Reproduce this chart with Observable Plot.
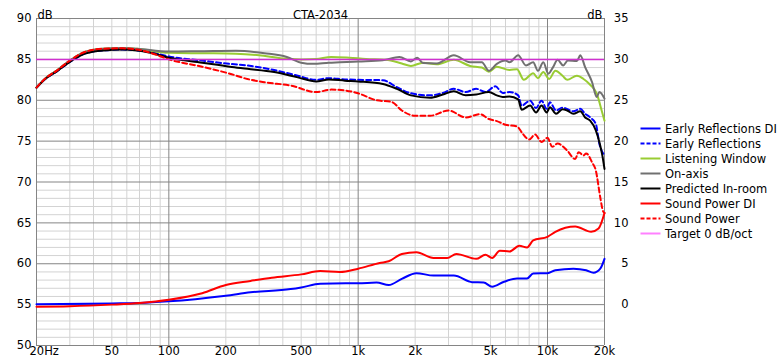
<!DOCTYPE html>
<html><head><meta charset="utf-8">
<script src="https://cdn.jsdelivr.net/npm/d3@7"></script>
<script src="https://cdn.jsdelivr.net/npm/@observablehq/plot@0.6"></script>
<style>
body{margin:0;background:#fff;font-family:"DejaVu Sans",sans-serif;}
#wrap{position:relative;width:780px;height:360px;overflow:hidden;}
#legend{position:absolute;left:640px;top:121px;font-size:11.5px;color:#000;}
.row{height:15px;display:flex;align-items:center;white-space:nowrap;}
.row svg{margin-right:4px;display:block;}
</style></head><body><div id="wrap"><div id="legend"></div></div>
<script>
// ---- data: [frequency Hz, level dB] ----
const earlyReflectionsDI = [[20,0.05],[50,0.15],[70,0.2],[100,0.4],[200,1.1],[270,1.5],[440,1.9],[500,2.1],[630,2.55],[860,2.6],[1000,2.6],[1250,2.7],[1450,2.4],[1700,3.15],[2030,3.85],[2500,3.55],[3200,3.55],[4000,2.75],[4600,2.7],[5100,2.2],[5900,2.8],[6900,3.2],[7800,3.2],[8400,3.8],[10000,3.85],[11000,4.2],[13700,4.4],[16000,4.2],[17500,3.9],[19000,4.4],[20000,5.6]];
const earlyReflections = [[20,81.55],[22.5,82.7],[25.5,83.5],[30,84.7],[36,85.7],[45,86.1],[57,86.2],[68,86.1],[80,85.9],[100,85.35],[150,84.85],[210,84.45],[260,84.25],[360,83.7],[480,83.0],[600,82.5],[700,82.7],[850,82.55],[1000,82.5],[1350,82.45],[1600,81.6],[1900,80.85],[2400,80.6],[2800,80.9],[3200,81.4],[3700,81.0],[4200,81.4],[4700,81.0],[5300,81.7],[5800,80.9],[6300,81.0],[7000,80.6],[7300,79.35],[8100,79.95],[8700,79.05],[9300,79.95],[9900,78.95],[10300,79.75],[11100,78.75],[12000,79.1],[13700,78.65],[14900,78.95],[15800,78.35],[16800,77.9],[18000,77.1],[18800,74.65],[19500,73.65],[20000,73.3]];
const listeningWindow = [[20,81.55],[22.5,82.75],[25.5,83.6],[30,84.85],[36,85.9],[45,86.3],[57,86.4],[68,86.3],[100,85.8],[150,85.75],[226,85.7],[300,85.5],[400,85.1],[500,85.0],[600,85.05],[720,85.3],[900,85.2],[1100,85.05],[1400,84.95],[1700,84.5],[1900,84.2],[2200,84.6],[2600,84.4],[3200,84.95],[3900,84.2],[4500,84.0],[4900,83.5],[5400,84.1],[6300,83.7],[6900,83.8],[7500,82.5],[8400,83.3],[8900,82.7],[9500,83.45],[10200,82.6],[11000,83.6],[12000,83.0],[12700,82.5],[14300,83.0],[15500,82.6],[16800,81.9],[18200,80.8],[19400,78.6],[20000,77.5]];
const onAxis = [[20,81.55],[22.5,82.75],[25.5,83.6],[30,84.85],[36,85.9],[45,86.3],[57,86.4],[68,86.3],[100,85.95],[150,86.0],[226,86.05],[320,85.75],[420,85.3],[500,84.6],[580,84.45],[700,84.6],[800,84.65],[1000,84.75],[1350,84.9],[1650,85.3],[1900,84.75],[2050,85.2],[2200,84.55],[2600,84.5],[3200,85.5],[3900,84.65],[4500,84.65],[4900,83.6],[5400,84.45],[6000,84.85],[6300,84.65],[7000,85.5],[7700,84.25],[8400,84.65],[8900,83.6],[9500,84.65],[10100,83.25],[10700,84.05],[11300,84.95],[12100,84.25],[12800,84.85],[14300,84.8],[14900,85.5],[15800,84.05],[17200,82.2],[18200,80.4],[18800,81.0],[20000,80.2]];
const predictedInRoom = [[20,81.55],[22.5,82.7],[25.5,83.5],[30,84.7],[36,85.7],[45,86.1],[57,86.2],[68,86.1],[80,85.8],[100,85.2],[150,84.6],[210,84.1],[260,83.85],[360,83.45],[480,82.8],[600,82.3],[700,82.55],[850,82.4],[1000,82.3],[1350,82.0],[1600,81.4],[1900,80.6],[2400,80.3],[2800,80.7],[3200,81.1],[3700,80.6],[4200,80.7],[4900,81.0],[5400,80.6],[5800,80.4],[6300,80.45],[7000,80.1],[7300,78.85],[8100,79.35],[8700,78.5],[9300,79.35],[9900,78.5],[10300,79.15],[11100,78.35],[12000,78.9],[12700,78.75],[13700,78.35],[14900,78.65],[15800,77.9],[16800,77.5],[18000,76.3],[18900,74.65],[19500,73.2],[20000,71.6]];
const soundPowerDI = [[20,-0.25],[30,-0.2],[50,0.0],[70,0.2],[100,0.6],[150,1.4],[200,2.4],[270,2.9],[350,3.3],[500,3.7],[630,4.1],[800,4.0],[1000,4.4],[1300,5.1],[1450,5.3],[1700,6.2],[2030,6.4],[2500,5.7],[2950,5.7],[3300,6.2],[4200,5.6],[4700,6.1],[5100,5.7],[5600,6.6],[6300,6.5],[7100,7.2],[7800,7.0],[8400,7.85],[10000,8.3],[11000,8.9],[14000,9.55],[17000,8.9],[18600,9.3],[20000,11.2]];
const soundPower = [[20,81.55],[22.5,82.75],[25.5,83.6],[30,84.85],[36,85.9],[45,86.3],[57,86.35],[68,86.2],[80,85.8],[100,85.0],[150,84.1],[210,83.25],[260,82.6],[320,82.2],[440,81.8],[600,81.0],[720,81.3],[850,81.2],[1000,80.85],[1250,80.0],[1500,79.8],[1700,78.75],[2000,78.1],[2400,78.1],[3000,78.75],[3700,77.9],[4400,78.3],[4900,77.7],[5400,77.45],[6000,77.0],[6900,76.8],[7400,75.9],[8000,75.2],[8600,75.8],[9300,74.9],[10000,75.4],[10600,74.3],[11300,74.7],[12700,73.85],[14000,72.8],[14600,73.65],[15500,73.25],[16000,73.5],[17200,72.4],[18000,71.4],[19000,68.1],[19600,66.5],[20000,66.2]];
const targetLevel = 85;
const diOffset = 55; // DI axis 0 aligned with 55 dB on the left axis

const xTickValues = [20,50,100,200,500,1000,2000,5000,10000,20000];
const xTickLabels = ["20Hz","50","100","200","500","1k","2k","5k","10k","20k"];
const yTicksLeft = [50,55,60,65,70,75,80,85,90];
const yTicksRight = [0,5,10,15,20,25,30,35];

const seriesNames = ["Early Reflections DI","Early Reflections","Listening Window","On-axis","Predicted In-room","Sound Power DI","Sound Power","Target 0 dB/oct"];
const seriesColors = ["#0000ff","#0000ff","#99cc33","#707070","#000000","#ff0000","#ff0000","#ff80ff"];
const seriesDashed = [false,true,false,false,false,false,true,false];

// ---- grid ----
const minorX = [];
for (const dec of [10,100,1000,10000]) for (let k=2;k<=9;k++){const f=k*dec; if(f>20&&f<20000&&f!==100&&f!==1000&&f!==10000) minorX.push(f);}
const majorX = [20,100,1000,10000,20000];
const minorY = d3.range(50,91).filter(v=>v%5!==0);
const majorY = yTicksLeft;

const toRows = (arr, off=0) => arr.map(([f,v])=>({f, v: v+off}));
const seriesData = [
  toRows(earlyReflectionsDI, diOffset), toRows(earlyReflections), toRows(listeningWindow),
  toRows(onAxis), toRows(predictedInRoom), toRows(soundPowerDI, diOffset), toRows(soundPower)
];

const font = {fontFamily:"DejaVu Sans", fontSize:11.5, fill:"#000"};
const lineMarks = seriesData.map((d,i)=>Plot.line(d,{x:"f",y:"v",stroke:seriesColors[i],strokeWidth:2,
  strokeDasharray: seriesDashed[i] ? "5,3" : null, curve:"monotone-x"}));

const chart = Plot.plot({
  width: 780, height: 360,
  marginLeft: 36, marginRight: 176, marginTop: 18, marginBottom: 15,
  style: {fontFamily:"DejaVu Sans", fontSize:"11.5px", background:"#fff", color:"#000"},
  x: {type:"log", domain:[20,20000], axis:null},
  y: {domain:[50,90], axis:null},
  marks: [
    Plot.ruleX(minorX,{stroke:"#d3d3d3"}),
    Plot.ruleY(minorY,{stroke:"#d3d3d3"}),
    Plot.ruleX(majorX,{stroke:"#858585"}),
    Plot.ruleY(majorY,{stroke:"#858585"}),
    ...lineMarks,
    Plot.ruleY([targetLevel],{stroke:"#d030d0",strokeWidth:1.5}),
    Plot.text(yTicksLeft,{x:20,y:d=>d,text:d=>String(d),textAnchor:"end",dx:-5,...font}),
    Plot.text(yTicksRight,{x:20000,y:d=>d+diOffset,text:d=>String(d),textAnchor:"end",dx:24,...font}),
    Plot.text(xTickValues.slice(1),{x:d=>d,text:(d,i)=>xTickLabels[i+1],frameAnchor:"bottom",dy:9,...font}),
    Plot.text([xTickValues[0]],{x:d=>d,text:()=>xTickLabels[0],frameAnchor:"bottom",dy:9,textAnchor:"start",dx:-7,...font}),
    Plot.text(["dB"],{frameAnchor:"top-left",text:d=>d,dy:-8,dx:1,textAnchor:"start",...font}),
    Plot.text(["CTA-2034"],{frameAnchor:"top",text:d=>d,dy:-8,...font}),
    Plot.text(["dB"],{frameAnchor:"top-right",text:d=>d,dy:-8,dx:-2,textAnchor:"end",...font})
  ]
});
document.getElementById("wrap").prepend(chart);

const legend = document.getElementById("legend");
seriesNames.forEach((name,i)=>{
  const row = document.createElement("div");
  row.className = "row";
  row.innerHTML = `<svg width="21" height="15"><line x1="0.5" x2="20.5" y1="7.5" y2="7.5" stroke="${seriesColors[i]}" stroke-width="2" ${seriesDashed[i]?'stroke-dasharray="4,2"':''}/></svg><span>${name}</span>`;
  legend.appendChild(row);
});
</script></body></html>
